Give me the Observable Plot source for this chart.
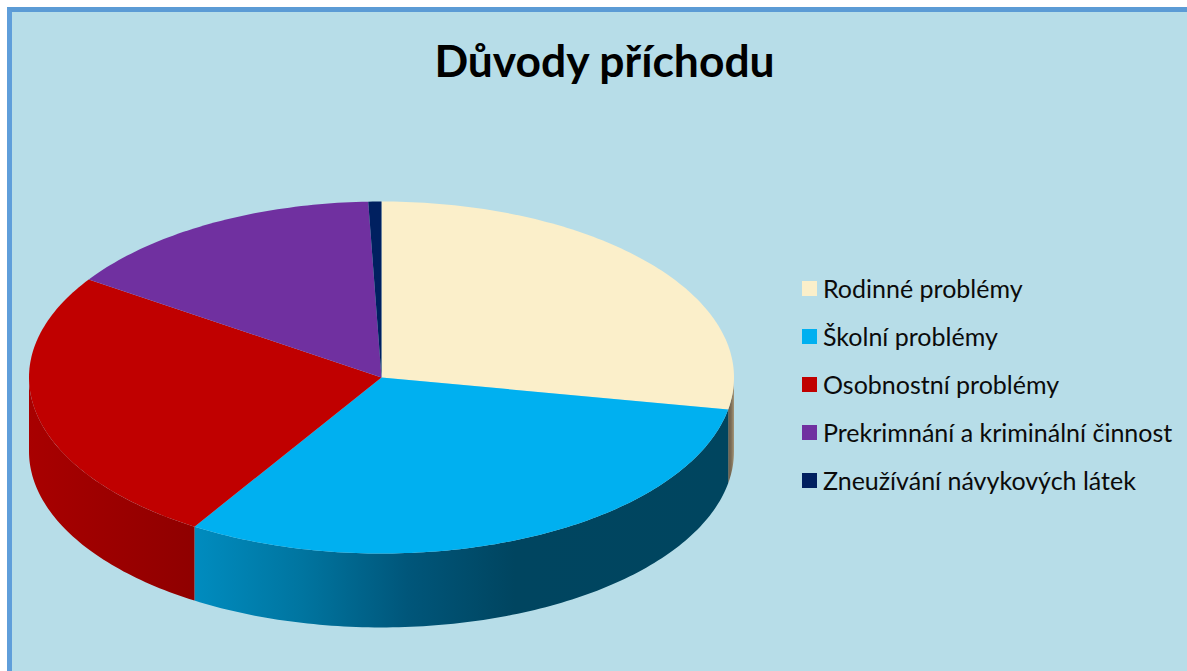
<!DOCTYPE html>
<html lang="cs">
<head>
<meta charset="utf-8">
<script src="https://cdn.jsdelivr.net/npm/d3@7"></script>
<script src="https://cdn.jsdelivr.net/npm/@observablehq/plot@0.6"></script>
<style>
  html, body { margin: 0; background: #fff; width: 1187px; height: 671px; overflow: hidden; }
  #frame { position: absolute; left: 7px; top: 7px; width: 1180px; height: 664px; box-sizing: border-box;
           background: #B7DDE8; border-left: 5px solid #5F9EDA; border-top: 5px solid #5B9BD5; }
  #chart { position: absolute; left: 0; top: 0; }
  #title { position: absolute; left: 0; top: 33px; width: 1209px; margin: 0; text-align: center;
           font: 700 44.4px Lato, sans-serif; color: #000; line-height: 54px; }
  #legend { position: absolute; left: 802px; top: 264px; }
  .item { position: absolute; left: 0; height: 48px; width: 385px; }
  .swatch { position: absolute; left: 0; top: 17px; width: 15px; height: 15px; }
  .label { position: absolute; left: 21px; top: 8px; white-space: nowrap; font: 400 25px/32px Lato, sans-serif; color: #0b0b0b; }
</style>
</head>
<body>
<div id="frame"></div>
<div id="chart"></div>
<h1 id="title">Důvody příchodu</h1>
<div id="legend"></div>
<script>
const categories = ["Rodinné problémy", "Školní problémy", "Osobnostní problémy", "Prekrimnání a kriminální činnost", "Zneužívání návykových látek"];
const shares = [27.9, 31.0, 25.5, 15.0, 0.6];
const colors = ["#FBEFCA", "#00B0F0", "#C00000", "#7030A0", "#002060"];
const sideFills = ["url(#side0)", "url(#side1)", "url(#side2)", null, null];
const depth = 0.42; // pie thickness, in units of the vertical radius

const total = d3.sum(shares);
const cum = d3.cumsum(shares);
const angle = v => v / total * 360;
const pt = (deg, dy = 0) => {
  const r = deg * Math.PI / 180;
  return {x: Math.sin(r), y: Math.cos(r) + dy};
};
const range = (a, b) => {
  const n = Math.max(2, Math.ceil(Math.abs(b - a)));
  return d3.range(n + 1).map(i => a + (b - a) * i / n);
};

const top_ = [], side = [];
categories.forEach((name, i) => {
  const a0 = angle(i ? cum[i - 1] : 0), a1 = angle(cum[i]);
  top_.push({name, pts: [{x: 0, y: 0}, ...range(a0, a1).map(a => pt(a))]});
  const s0 = Math.max(a0, 90), s1 = Math.min(a1, 270);
  if (s1 > s0 && sideFills[i]) {
    side.push({i, pts: [...range(s0, s1).map(a => pt(a)), ...range(s1, s0).map(a => pt(a, -depth))]});
  }
});

const stops = [
  [[0, "#6A5E4C"], [0.5, "#7A6C56"], [1, "#A59678"]],
  [[0, "#008CBF"], [0.2, "#0075A0"], [0.4, "#00567A"], [0.6, "#004560"], [1, "#00455F"]],
  [[0, "#A80000"], [1, "#8F0000"]]
];
const defsMark = () => {
  const g = d3.create("svg:g");
  const defs = g.append("defs");
  stops.forEach((st, i) => {
    const lg = defs.append("linearGradient").attr("id", "side" + i);
    st.forEach(([o, c]) => lg.append("stop").attr("offset", o).attr("stop-color", c));
  });
  return g.node();
};

const wedge = (d, fill) => Plot.line(d.pts, {x: "x", y: "y", fill, stroke: "none", curve: "linear-closed"});

const plot = Plot.plot({
  width: 1187, height: 671,
  marginTop: 0, marginRight: 0, marginBottom: 0, marginLeft: 0,
  x: {domain: [-1, 1], range: [28.5, 733.5], axis: null},
  y: {domain: [-1, 1], range: [553, 201], axis: null},
  style: {background: "transparent"},
  marks: [
    defsMark,
    ...side.map(d => wedge(d, sideFills[d.i])),
    ...top_.map((d, i) => wedge(d, colors[i]))
  ]
});
document.getElementById("chart").append(plot);

const legend = d3.select("#legend");
categories.forEach((name, i) => {
  const it = legend.append("div").attr("class", "item").style("top", (i * 48) + "px");
  it.append("div").attr("class", "swatch").style("background", colors[i]);
  it.append("div").attr("class", "label").text(name);
});
</script>
</body>
</html>
